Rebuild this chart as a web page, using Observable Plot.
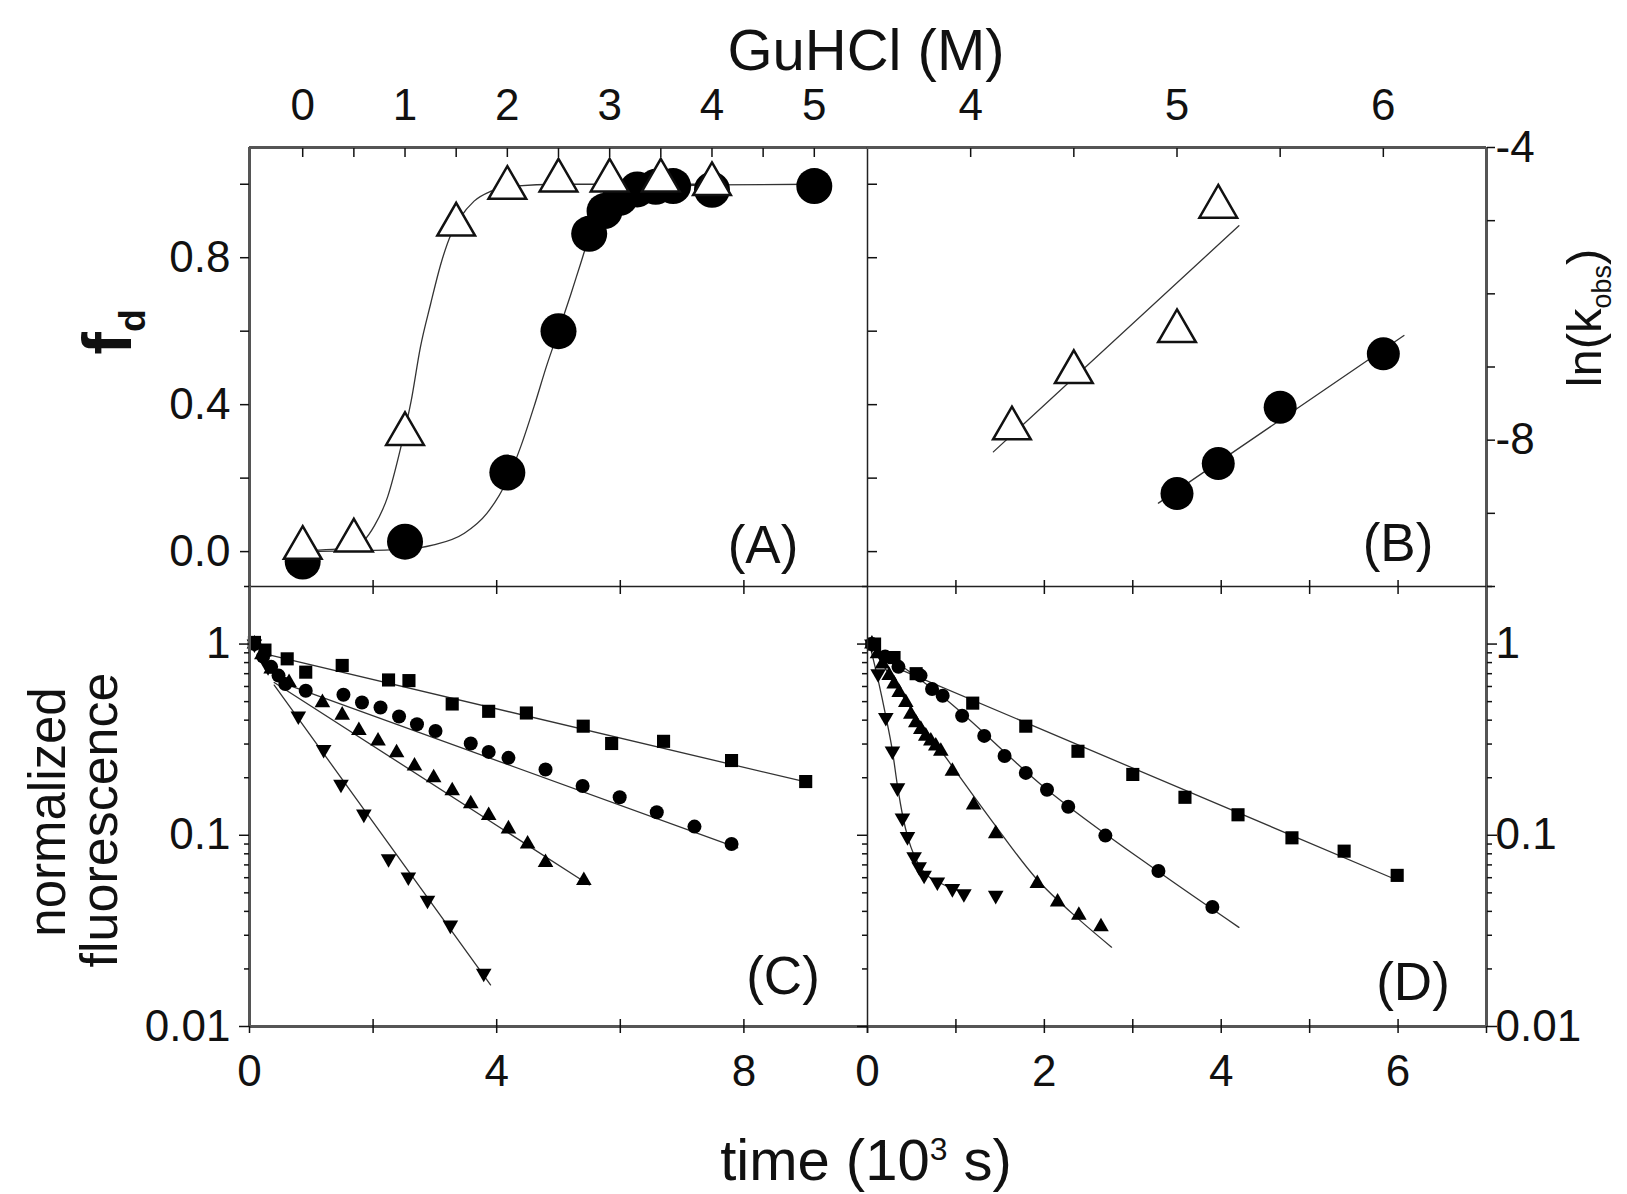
<!DOCTYPE html>
<html><head><meta charset="utf-8">
<script src="https://cdn.jsdelivr.net/npm/d3@7"></script>
<script src="https://cdn.jsdelivr.net/npm/@observablehq/plot@0.6"></script>
<style>
html,body{margin:0;padding:0;background:#fff;}
#wrap{position:relative;width:1627px;height:1194px;overflow:hidden;font-family:"Liberation Sans",Arial,sans-serif;color:#111;background:#fff;}
.lbl{position:absolute;white-space:nowrap;line-height:1;}
.lbl sub,.lbl sup{font-size:55%;}
</style></head><body><div id="wrap"></div>
<script>
// ---------- Panel A: fraction denatured vs GuHCl ----------
const aTriGuHCl = [0, 0.5, 1.0, 1.5, 2.0, 2.5, 3.0, 3.5, 4.0];
const aTriFd    = [0.01, 0.03, 0.32, 0.89, 0.99, 1.01, 1.01, 1.01, 1.0];
const aCirGuHCl = [0, 1.0, 2.0, 2.5, 2.8, 2.95, 3.1, 3.27, 3.45, 3.62, 4.0, 5.0];
const aCirFd    = [-0.027, 0.027, 0.215, 0.60, 0.865, 0.927, 0.963, 0.986, 0.993, 0.995, 0.985, 0.995];
const aTriFitGuHCl = [0, 0.5, 0.7, 0.83, 0.96, 1.06, 1.15, 1.25, 1.35, 1.45, 1.54, 1.675, 1.84, 2.07, 2.5, 3.0, 4.0];
const aTriFitFd    = [0.002, 0.012, 0.07, 0.149, 0.285, 0.41, 0.556, 0.674, 0.783, 0.864, 0.909, 0.954, 0.981, 0.995, 1.0, 1.0, 1.0];
const aCirFitGuHCl = [0, 0.99, 1.28, 1.58, 1.80, 2.0, 2.13, 2.26, 2.39, 2.50, 2.62, 2.715, 2.81, 2.975, 3.2, 3.5, 4.0, 5.0];
const aCirFitFd    = [0.0, 0.006, 0.018, 0.05, 0.104, 0.195, 0.285, 0.394, 0.511, 0.60, 0.70, 0.783, 0.864, 0.927, 0.972, 0.99, 0.998, 1.0];
const aTopTicks = [0, 1, 2, 3, 4, 5];
const aLeftTicks = [0, 0.4, 0.8];

// ---------- Panel B: ln(kobs) vs GuHCl ----------
const bTriGuHCl = [4.2, 4.5, 5.0, 5.2];
const bTriLnk   = [-7.84, -7.07, -6.51, -4.81];
const bCirGuHCl = [5.0, 5.2, 5.5, 6.0];
const bCirLnk   = [-8.73, -8.32, -7.55, -6.82];
const bTriFitGuHCl = [4.11, 5.30];
const bTriFitLnk   = [-8.16, -5.07];
const bCirFitGuHCl = [4.91, 6.10];
const bCirFitLnk   = [-8.86, -6.57];
const bTopTicks = [4, 5, 6];
const bRightTicks = [-4, -8];

// ---------- Panel C: normalized fluorescence vs time (10^3 s) ----------
const cSqT = [0.08, 0.25, 0.61, 0.91, 1.50, 2.25, 2.58, 3.28, 3.87, 4.48, 5.40, 5.86, 6.70, 7.80, 9.00];
const cSqF = [1.02, 0.93, 0.837, 0.713, 0.773, 0.649, 0.644, 0.486, 0.445, 0.436, 0.372, 0.302, 0.31, 0.246, 0.191];
const cCiT = [0.08, 0.22, 0.35, 0.47, 0.58, 0.91, 1.52, 1.82, 2.12, 2.42, 2.71, 3.01, 3.58, 3.87, 4.19, 4.79, 5.39, 5.99, 6.59, 7.20, 7.80];
const cCiF = [1.0, 0.86, 0.76, 0.684, 0.618, 0.57, 0.543, 0.495, 0.466, 0.418, 0.381, 0.351, 0.302, 0.273, 0.254, 0.221, 0.181, 0.158, 0.132, 0.111, 0.090];
const cUpT = [0.08, 0.2, 0.35, 0.64, 1.18, 1.50, 1.77, 2.08, 2.38, 2.67, 2.98, 3.28, 3.58, 3.87, 4.19, 4.50, 4.79, 5.41];
const cUpF = [1.0, 0.88, 0.74, 0.63, 0.494, 0.425, 0.353, 0.311, 0.270, 0.230, 0.200, 0.171, 0.146, 0.127, 0.108, 0.090, 0.072, 0.058];
const cDnT = [0.08, 0.3, 0.79, 1.2, 1.48, 1.85, 2.25, 2.57, 2.88, 3.25, 3.79];
const cDnF = [1.0, 0.76, 0.42, 0.281, 0.185, 0.129, 0.0753, 0.0605, 0.0457, 0.0339, 0.019];
const cSqFitT = [0.3, 9.0],  cSqFitF = [0.88, 0.19];
const cCiFitT = [0.45, 7.9], cCiFitF = [0.64, 0.086];
const cUpFitT = [0.4, 5.5],  cUpFitF = [0.63, 0.055];
const cDnFitT = [0.4, 3.9],  cDnFitF = [0.61, 0.0165];
const cBottomTicks = [0, 4, 8];

// ---------- Panel D ----------
const dSqT = [0.08, 0.3, 0.55, 1.19, 1.79, 2.38, 3.00, 3.59, 4.19, 4.80, 5.39, 5.99];
const dSqF = [1.0, 0.85, 0.70, 0.491, 0.372, 0.275, 0.208, 0.158, 0.128, 0.097, 0.0826, 0.0617];
const dCiT = [0.05, 0.2, 0.35, 0.60, 0.73, 0.85, 1.07, 1.32, 1.55, 1.79, 2.03, 2.27, 2.69, 3.29, 3.90];
const dCiF = [1.0, 0.86, 0.76, 0.684, 0.582, 0.537, 0.422, 0.331, 0.260, 0.212, 0.173, 0.141, 0.0996, 0.065, 0.0422];
const dUpT = [0.05, 0.113, 0.169, 0.245, 0.301, 0.358, 0.433, 0.49, 0.546, 0.603, 0.659, 0.716, 0.772, 0.829, 0.96, 1.2, 1.45, 1.92, 2.15, 2.39, 2.64];
const dUpF = [1.0, 0.889, 0.787, 0.684, 0.618, 0.558, 0.495, 0.43, 0.388, 0.358, 0.33, 0.311, 0.293, 0.275, 0.216, 0.144, 0.102, 0.056, 0.0448, 0.0382, 0.0332];
const dDnT = [0.05, 0.12, 0.207, 0.282, 0.339, 0.395, 0.452, 0.527, 0.584, 0.64, 0.79, 0.96, 1.09, 1.45];
const dDnF = [1.0, 0.7, 0.413, 0.276, 0.177, 0.123, 0.0984, 0.0773, 0.0684, 0.0618, 0.057, 0.0526, 0.0495, 0.0485];
const dSqFitT = [0.3, 6.0], dSqFitF = [0.76, 0.058];
const dCiFitT = [0.15, 0.85, 2.0, 3.3, 4.2], dCiFitF = [0.92, 0.53, 0.178, 0.064, 0.033];
const dUpFitT = [0.05, 0.45, 0.9, 1.4, 1.9, 2.4, 2.76], dUpFitF = [0.97, 0.49, 0.25, 0.12, 0.06, 0.036, 0.026];
const dDnFitT = [0.03, 0.12, 0.207, 0.28, 0.34, 0.40, 0.46, 0.53, 0.64, 0.8, 1.0, 1.12];
const dDnFitF = [0.97, 0.65, 0.42, 0.28, 0.18, 0.125, 0.096, 0.078, 0.064, 0.057, 0.052, 0.05];
const dBottomTicks = [0, 2, 4, 6];
const logLabelTicks = [1, 0.1, 0.01];

// ---------- layout ----------
const L = 249, MX = 867, R = 1486, T = 147, MY = 586, B = 1026;
const FONT = '"Liberation Sans", Arial, sans-serif';
const FS = 44;
const wrap = document.getElementById("wrap");
const pts = (xs, ys) => xs.map((x, i) => ({x, y: ys[i]}));
const none = () => "";
const LINE = {stroke: "#333", strokeWidth: 1.3};
const OUTER = {stroke: "#555", strokeWidth: 3};
const INNER = {stroke: "#222", strokeWidth: 1.5};
const logMajor = [0.01, 0.1, 1];
const logMinor = [2,3,4,5,6,7,8,9].map(d => d * 0.01).concat([2,3,4,5,6,7,8,9].map(d => d * 0.1), [2]);

function panel(x0, y0, w, h, xDomain, yDomain, yType, marks) {
  const svg = Plot.plot({
    width: w, height: h, marginTop: 0, marginRight: 0, marginBottom: 0, marginLeft: 0,
    style: {overflow: "visible", fontFamily: FONT, fontSize: FS + "px", color: "#111", background: "none"},
    x: {domain: xDomain, axis: null},
    y: {domain: yDomain, type: yType, axis: null},
    marks
  });
  svg.style.position = "absolute";
  svg.style.left = x0 + "px";
  svg.style.top = y0 + "px";
  wrap.appendChild(svg);
}
const ax = (fn, ticks, o) => fn(ticks, {label: null, strokeWidth: 1.5, fontSize: FS, ...o});

// Panel A
panel(L, T, MX - L, MY - T, [-0.52, 5.52], [-0.095, 1.1], "linear", [
  Plot.line(pts(aTriFitGuHCl, aTriFitFd), {x: "x", y: "y", curve: "monotone-x", ...LINE}),
  Plot.line(pts(aCirFitGuHCl, aCirFitFd), {x: "x", y: "y", curve: "monotone-x", ...LINE}),
  Plot.dot(pts(aCirGuHCl, aCirFd), {x: "x", y: "y", r: 18, fill: "#000"}),
  Plot.dot(pts(aTriGuHCl, aTriFd), {x: "x", y: "y", symbol: "triangle", r: 14, fill: "#fff", stroke: "#111", strokeWidth: 2.5}),
  Plot.ruleY([1.1], OUTER), Plot.ruleX([-0.52], OUTER),
  Plot.ruleX([5.52], INNER), Plot.ruleY([-0.095], INNER),
  ax(Plot.axisX, d3.range(0, 5.01, 0.5), {anchor: "top", tickSize: -9, tickFormat: none}),
  ax(Plot.axisX, aTopTicks, {anchor: "top", tickSize: 0, tickPadding: 28, tickFormat: d => String(d)}),
  ax(Plot.axisY, [0, 0.2, 0.4, 0.6, 0.8, 1.0], {anchor: "left", tickSize: 9, tickFormat: none}),
  ax(Plot.axisY, aLeftTicks, {anchor: "left", tickSize: 0, tickPadding: 19, tickFormat: d3.format(".1f")}),
  ax(Plot.axisY, [0, 0.2, 0.4, 0.6, 0.8, 1.0], {anchor: "right", tickSize: 9, tickFormat: none})
]);

// Panel B
panel(MX, T, R - MX, MY - T, [3.5, 6.5], [-10, -4], "linear", [
  Plot.line(pts(bTriFitGuHCl, bTriFitLnk), {x: "x", y: "y", ...LINE}),
  Plot.line(pts(bCirFitGuHCl, bCirFitLnk), {x: "x", y: "y", ...LINE}),
  Plot.dot(pts(bCirGuHCl, bCirLnk), {x: "x", y: "y", r: 16.5, fill: "#000"}),
  Plot.dot(pts(bTriGuHCl, bTriLnk), {x: "x", y: "y", symbol: "triangle", r: 14, fill: "#fff", stroke: "#111", strokeWidth: 2.5}),
  Plot.ruleY([-4], OUTER), Plot.ruleX([6.5], OUTER),
  ax(Plot.axisX, [4, 4.5, 5, 5.5, 6], {anchor: "top", tickSize: -9, tickFormat: none}),
  ax(Plot.axisX, bTopTicks, {anchor: "top", tickSize: 0, tickPadding: 28, tickFormat: d => String(d)}),
  ax(Plot.axisY, [-4, -5, -6, -7, -8, -9, -10], {anchor: "right", tickSize: 8, tickFormat: none}),
  ax(Plot.axisY, bRightTicks, {anchor: "right", tickSize: 0, tickPadding: 9, tickFormat: d => String(d)})
]);

// Panel C
const symC = {r: 7.4, fill: "#000"};
panel(L, MY, MX - L, B - MY, [0, 10], [0.01, 2], "log", [
  Plot.line(pts(cSqFitT, cSqFitF), {x: "x", y: "y", ...LINE}),
  Plot.line(pts(cCiFitT, cCiFitF), {x: "x", y: "y", ...LINE}),
  Plot.line(pts(cUpFitT, cUpFitF), {x: "x", y: "y", ...LINE}),
  Plot.line(pts(cDnFitT, cDnFitF), {x: "x", y: "y", ...LINE}),
  Plot.dot(pts(cSqT, cSqF), {x: "x", y: "y", symbol: "square", ...symC}),
  Plot.dot(pts(cCiT, cCiF), {x: "x", y: "y", r: 7, fill: "#000"}),
  Plot.dot(pts(cUpT, cUpF), {x: "x", y: "y", symbol: "triangle", r: 5.8, fill: "#000"}),
  Plot.dot(pts(cDnT, cDnF), {x: "x", y: "y", symbol: "triangle", r: 5.8, fill: "#000", rotate: 180}),
  Plot.ruleX([0], OUTER), Plot.ruleY([0.01], OUTER),
  ax(Plot.axisY, logMajor, {anchor: "left", tickSize: 10, tickFormat: none}),
  ax(Plot.axisY, logMinor, {anchor: "left", tickSize: 5, tickFormat: none}),
  ax(Plot.axisY, logLabelTicks, {anchor: "left", tickSize: 0, tickPadding: 19, tickFormat: d => String(d)}),
  ax(Plot.axisX, [0, 2, 4, 6, 8, 10], {anchor: "bottom", tickSize: 7, tickFormat: none}),
  ax(Plot.axisX, [2, 4, 6, 8], {anchor: "bottom", tickSize: -7, tickFormat: none}),
  ax(Plot.axisX, cBottomTicks, {anchor: "bottom", tickSize: 0, tickPadding: 28, tickFormat: d => String(d)}),
  ax(Plot.axisX, [2, 4, 6, 8], {anchor: "top", tickSize: 7, tickFormat: none}),
  ax(Plot.axisX, [2, 4, 6, 8], {anchor: "top", tickSize: -7, tickFormat: none})
]);

// Panel D
panel(MX, MY, R - MX, B - MY, [0, 7], [0.01, 2], "log", [
  Plot.line(pts(dSqFitT, dSqFitF), {x: "x", y: "y", ...LINE}),
  Plot.line(pts(dCiFitT, dCiFitF), {x: "x", y: "y", curve: "monotone-x", ...LINE}),
  Plot.line(pts(dUpFitT, dUpFitF), {x: "x", y: "y", curve: "monotone-x", ...LINE}),
  Plot.line(pts(dDnFitT, dDnFitF), {x: "x", y: "y", curve: "monotone-x", ...LINE}),
  Plot.dot(pts(dSqT, dSqF), {x: "x", y: "y", symbol: "square", ...symC}),
  Plot.dot(pts(dCiT, dCiF), {x: "x", y: "y", r: 7, fill: "#000"}),
  Plot.dot(pts(dUpT, dUpF), {x: "x", y: "y", symbol: "triangle", r: 5.8, fill: "#000"}),
  Plot.dot(pts(dDnT, dDnF), {x: "x", y: "y", symbol: "triangle", r: 5.8, fill: "#000", rotate: 180}),
  Plot.ruleX([7], OUTER), Plot.ruleY([0.01], OUTER),
  Plot.ruleX([0], INNER), Plot.ruleY([2], INNER),
  ax(Plot.axisY, logMajor, {anchor: "right", tickSize: 10, tickFormat: none}),
  ax(Plot.axisY, logMinor, {anchor: "right", tickSize: 5, tickFormat: none}),
  ax(Plot.axisY, logLabelTicks, {anchor: "right", tickSize: 0, tickPadding: 9, tickFormat: d => String(d)}),
  ax(Plot.axisY, logMajor, {anchor: "left", tickSize: 10, tickFormat: none}),
  ax(Plot.axisY, logMinor, {anchor: "left", tickSize: 5, tickFormat: none}),
  ax(Plot.axisX, [0, 1, 2, 3, 4, 5, 6, 7], {anchor: "bottom", tickSize: 7, tickFormat: none}),
  ax(Plot.axisX, [1, 2, 3, 4, 5, 6], {anchor: "bottom", tickSize: -7, tickFormat: none}),
  ax(Plot.axisX, dBottomTicks, {anchor: "bottom", tickSize: 0, tickPadding: 28, tickFormat: d => String(d)}),
  ax(Plot.axisX, [1, 2, 3, 4, 5, 6], {anchor: "top", tickSize: 7, tickFormat: none}),
  ax(Plot.axisX, [1, 2, 3, 4, 5, 6], {anchor: "top", tickSize: -7, tickFormat: none})
]);

// ---------- text labels ----------
function label(html, x, y, size, opts = {}) {
  const d = document.createElement("div");
  d.className = "lbl";
  d.innerHTML = html;
  d.style.left = x + "px";
  d.style.top = y + "px";
  d.style.fontSize = size + "px";
  if (opts.bold) d.style.fontWeight = "bold";
  d.style.transform = "translate(-50%,-50%)" + (opts.rot ? ` rotate(${opts.rot}deg)` : "");
  wrap.appendChild(d);
}
label("GuHCl (M)", 866, 50, 58);
label("time (10<sup>3</sup> s)", 866, 1160, 58);
label("f<sub>d</sub>", 112, 332, 68, {bold: true, rot: -90});
label("normalized", 47, 812, 51, {rot: -90});
label("fluorescence", 99, 820, 52, {rot: -90});
label("ln(k<sub>obs</sub>)", 1588, 318, 49, {rot: -90});
label("(A)", 763, 544, 53);
label("(B)", 1398, 542, 53);
label("(C)", 783, 975, 53);
label("(D)", 1413, 981, 53);
</script></body></html>
